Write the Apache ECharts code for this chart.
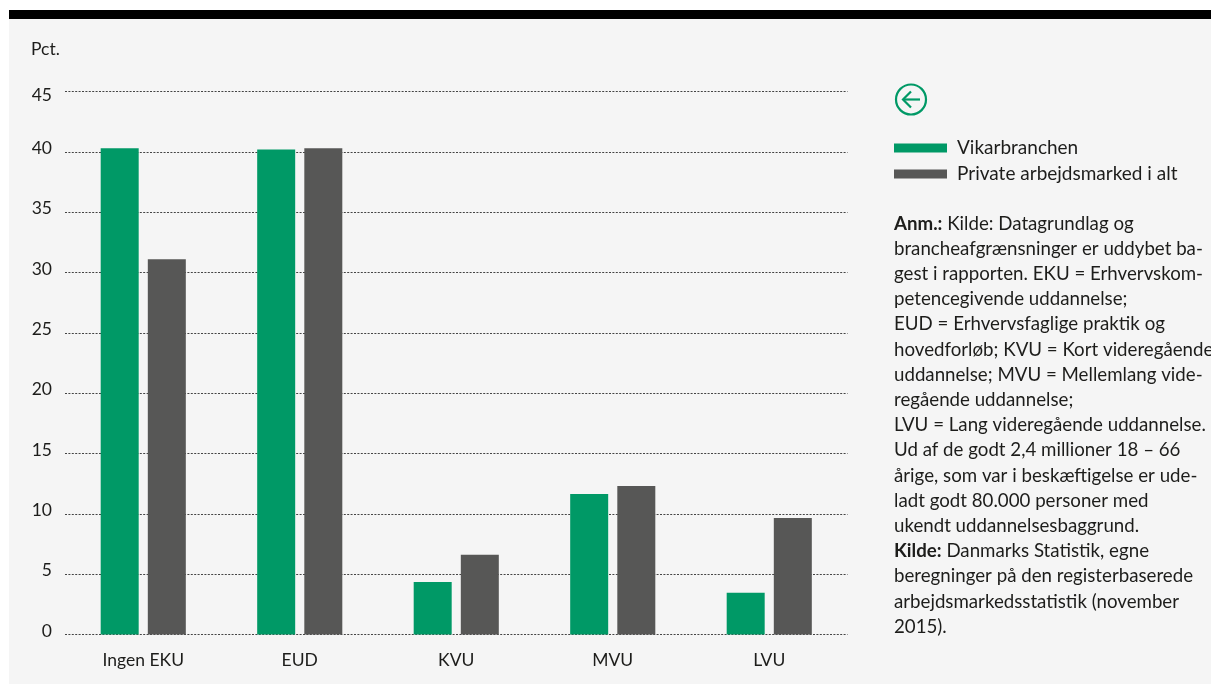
<!DOCTYPE html>
<html>
<head>
<meta charset="utf-8">
<title>Vikarbranchen</title>
<script src="https://cdn.jsdelivr.net/npm/echarts@6/dist/echarts.min.js"></script>
<style>
    html, body { margin: 0; padding: 0; background: #fff; overflow: hidden; }
    .panel { position: absolute; left: 9px; top: 19px; width: 1202px; height: 665px; background: #f5f5f5; }
    .band { position: absolute; left: 9px; top: 10px; width: 1202px; height: 9px; background: #000; }
    #chart { position: absolute; left: 0; top: 0; width: 1211px; height: 684px; }
</style>
</head>
<body>
<div class="panel"></div>
<div class="band"></div>
<div id="chart"></div>
<script>
const categories = ['Ingen EKU', 'EUD', 'KVU', 'MVU', 'LVU'];
const vikarbranchen = [40.3, 40.2, 4.35, 11.65, 3.45];
const privateArbejdsmarked = [31.1, 40.3, 6.6, 12.3, 9.65];
const noteLines = [
    '{b|Anm.:} Kilde: Datagrundlag og',
    'brancheafgrænsninger er uddybet ba-',
    'gest i rapporten. EKU = Erhvervskom-',
    'petencegivende uddannelse;',
    'EUD = Erhvervsfaglige praktik og',
    'hovedforløb; KVU = Kort videregående',
    'uddannelse; MVU = Mellemlang vide-',
    'regående uddannelse;',
    'LVU = Lang videregående uddannelse.',
    'Ud af de godt 2,4 millioner 18 – 66',
    'årige, som var i beskæftigelse er ude-',
    'ladt godt 80.000 personer med',
    'ukendt uddannelsesbaggrund.',
    '{b|Kilde:} Danmarks Statistik, egne',
    'beregninger på den registerbaserede',
    'arbejdsmarkedsstatistik (november',
    '2015).'
];

const fontName = 'Lato';
const textColor = '#1d1d1b';

let myChart = echarts.init(document.getElementById('chart'));
myChart.setOption({
    animation: false,
    textStyle: { fontFamily: fontName, color: textColor },
    legend: {
        left: 894,
        top: 137,
        padding: 0,
        orient: 'vertical',
        itemWidth: 53,
        itemHeight: 9,
        itemGap: 4,
        icon: 'rect',
        textStyle: { fontFamily: fontName, fontSize: 19, color: textColor, padding: [0, 0, 0, 5], lineHeight: 22 },
        data: ['Vikarbranchen', 'Private arbejdsmarked i alt']
    },
    grid: { left: 65, right: 363.5, top: 91.5, bottom: 49.5 },
    xAxis: {
        type: 'category',
        data: categories,
        axisLine: { show: false },
        axisTick: { show: false },
        axisLabel: { color: textColor, fontSize: 17.5, margin: 17 }
    },
    yAxis: {
        type: 'value',
        min: 0,
        max: 45,
        interval: 5,
        name: 'Pct.',
        nameLocation: 'end',
        nameGap: 33,
        nameTextStyle: { color: textColor, fontSize: 17.5, align: 'left', padding: [0, 0, 0, -34] },
        axisLine: { show: false },
        axisTick: { show: false },
        axisLabel: {
            color: textColor,
            fontSize: 17.5,
            margin: 13,
            // the top label sits under its line, the others just above theirs
            formatter: function (value) {
                return value === 45 ? '{low|' + value + '}' : '{up|' + value + '}';
            },
            rich: {
                up: { fontSize: 17.5, padding: [0, 0, 7, 0] },
                low: { fontSize: 17.5, padding: [7, 0, 0, 0] }
            }
        },
        splitLine: { lineStyle: { type: [2, 1.4], color: '#444', width: 1 } }
    },
    series: [
        {
            name: 'Vikarbranchen',
            type: 'bar',
            data: vikarbranchen,
            barWidth: 38,
            barGap: '24%',
            itemStyle: { color: '#009966' }
        },
        {
            name: 'Private arbejdsmarked i alt',
            type: 'bar',
            data: privateArbejdsmarked,
            barWidth: 38,
            itemStyle: { color: '#575756' }
        }
    ],
    graphic: [
        {
            type: 'circle',
            shape: { cx: 911, cy: 99.5, r: 15 },
            style: { fill: 'none', stroke: '#009966', lineWidth: 2.2 }
        },
        {
            type: 'polyline',
            shape: { points: [[911, 91.5], [903, 99.5], [911, 107.5]] },
            style: { fill: 'none', stroke: '#009966', lineWidth: 2.2 }
        },
        {
            type: 'line',
            shape: { x1: 903, y1: 99.5, x2: 920, y2: 99.5 },
            style: { stroke: '#009966', lineWidth: 2.2 }
        },
        {
            type: 'text',
            left: 894,
            top: 211,
            style: {
                text: noteLines.join('\n'),
                fontFamily: fontName,
                fontSize: 18.7,
                lineHeight: 25.2,
                fill: textColor,
                rich: { b: { fontFamily: fontName, fontSize: 18.7, fontWeight: 'bold', lineHeight: 25.2, fill: textColor } }
            }
        }
    ]
});
</script>
</body>
</html>
